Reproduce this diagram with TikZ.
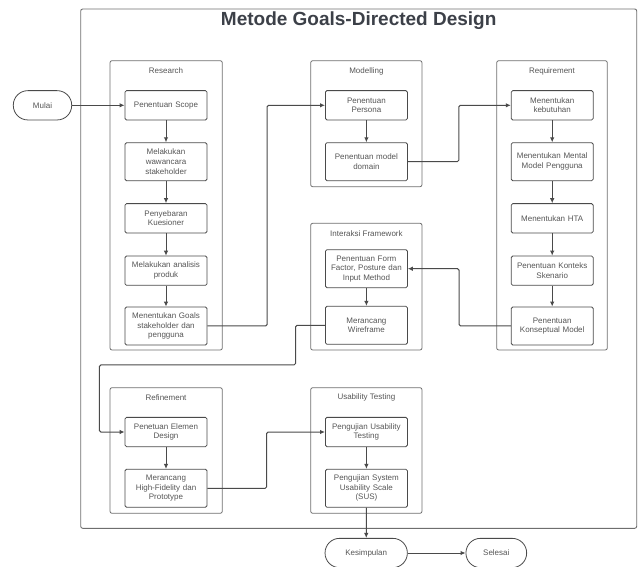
\documentclass[tikz,border=0pt]{standalone}
\usepackage{fontspec}
\setmainfont{Liberation Sans}
\usetikzlibrary{arrows.meta}
\definecolor{linegray}{HTML}{4A4A4A}
\definecolor{framegray}{HTML}{6E6E6E}
\definecolor{textgray}{HTML}{555555}
\definecolor{titlegray}{HTML}{3C4048}

\begin{document}
\begin{tikzpicture}[x = 1pt, y = -1pt,
		box/.style = {draw = linegray, line width = 0.8pt, rounded corners = 1.5pt, text = textgray,
			font = \fontsize{8}{9.6}\selectfont, align = center, text width = 78pt, minimum width = 82pt, inner sep = 1pt},
		smallbox/.style = {box, minimum height = 29.3pt},
		tallbox/.style = {box, minimum height = 38pt},
		groupbox/.style = {draw = framegray, line width = 0.8pt, rounded corners = 2pt},
		grouptitle/.style = {text = textgray, font = \fontsize{8}{9.6}\selectfont},
		terminal/.style = {draw = linegray, line width = 0.8pt, rounded corners = 14.5pt, text = textgray,
			font = \fontsize{8}{9.6}\selectfont, minimum height = 29.3pt},
		flow/.style = {draw = linegray, line width = 1pt, rounded corners = 1.5pt, -{Latex[length = 5pt, width = 4.5pt]}}]
		\useasboundingbox (0, 0) rectangle (641, 567);
		%%%%%%%%%%%%%
		\draw [framegray, line width = 0.9pt, rounded corners = 2pt] (80.7, 9) rectangle (636.7, 528.3);
		\node [text = titlegray, font = \bfseries\fontsize{19}{22}\selectfont] (title) at (358.7, 21) {Metode Goals-Directed Design};
		%%%%%%%%%%%%%
		\draw [groupbox] (110, 60.7) rectangle (222.3, 350);
		\draw [groupbox] (310.7, 60.7) rectangle (422, 186.7);
		\draw [groupbox] (496.7, 60.7) rectangle (607.3, 350);
		\draw [groupbox] (310.7, 223.3) rectangle (422, 350);
		\draw [groupbox] (110, 387.7) rectangle (222.3, 513.3);
		\draw [groupbox] (310.7, 387.7) rectangle (422, 513.3);
		\node [grouptitle] (research) at (166, 71) {Research};
		\node [grouptitle] (modelling) at (366.4, 71) {Modelling};
		\node [grouptitle] (requirement) at (552, 71) {Requirement};
		\node [grouptitle] (interaksi) at (366.4, 234) {Interaksi Framework};
		\node [grouptitle] (refinement) at (166, 397.7) {Refinement};
		\node [grouptitle] (usability) at (366.4, 397.7) {Usability Testing};
		%%%%%%%%%%%%%
		\node [terminal, minimum width = 58.4pt] (mulai) at (42.5, 105.3) {Mulai};
		\node [terminal, minimum width = 82.3pt] (kesimpulan) at (366.2, 553) {Kesimpulan};
		\node [terminal, minimum width = 60.7pt] (selesai) at (496.3, 553) {Selesai};
		%%%%%%%%%%%%%
		\node [smallbox] (scope) at (166, 105.3) {Penentuan Scope};
		\node [tallbox] (wawancara) at (166, 161.7) {Melakukan\\ wawancara\\ stakeholder};
		\node [smallbox] (kuesioner) at (166, 218.3) {Penyebaran\\ Kuesioner};
		\node [smallbox] (analisis) at (166, 270.7) {Melakukan analisis\\ produk};
		\node [tallbox] (goals) at (166, 326) {Menentukan Goals\\ stakeholder dan\\ pengguna};
		%%%%%%%%%%%%%
		\node [smallbox] (persona) at (366.4, 105.3) {Penentuan\\ Persona};
		\node [tallbox] (domain) at (366.4, 161.7) {Penentuan model\\ domain};
		%%%%%%%%%%%%%
		\node [smallbox] (kebutuhan) at (552.2, 105.3) {Menentukan\\ kebutuhan};
		\node [tallbox] (mental) at (552.2, 161.7) {Menentukan Mental\\ Model Pengguna};
		\node [smallbox] (hta) at (552.2, 218.3) {Menentukan HTA};
		\node [smallbox] (konteks) at (552.2, 270.7) {Penentuan Konteks\\ Skenario};
		\node [tallbox] (konseptual) at (552.2, 326) {Penentuan\\ Konseptual Model};
		%%%%%%%%%%%%%
		\node [tallbox] (formfactor) at (366.4, 268.7) {Penentuan Form\\ Factor, Posture dan\\ Input Method};
		\node [tallbox] (wireframe) at (366.4, 325.3) {Merancang\\ Wireframe};
		%%%%%%%%%%%%%
		\node [smallbox] (elemen) at (166, 432) {Penetuan Elemen\\ Design};
		\node [tallbox] (hifi) at (166, 488.3) {Merancang\\ High-Fidelity dan\\ Prototype};
		\node [smallbox] (pengujian) at (366.4, 432) {Pengujian Usability\\ Testing};
		\node [tallbox] (sus) at (366.4, 488.3) {Pengujian System\\ Usability Scale\\ (SUS)};
		\coordinate (wfturn) at (99.3, 365);
		%%%%%%%%%%%%%
		\draw [flow] (mulai) to (scope);
		\draw [flow] (scope) to (wawancara); \draw [flow] (wawancara) to (kuesioner);
		\draw [flow] (kuesioner) to (analisis); \draw [flow] (analisis) to (goals);
		\draw [flow] (goals.east) -- ++(59.7, 0) |- (persona.west);
		\draw [flow] (persona) to (domain);
		\draw [flow] (domain.east) -- ++(51, 0) |- (kebutuhan.west);
		\draw [flow] (kebutuhan) to (mental); \draw [flow] (mental) to (hta);
		\draw [flow] (hta) to (konteks); \draw [flow] (konteks) to (konseptual);
		\draw [flow] (konseptual.west) -- ++(-51.7, 0) |- (formfactor.east);
		\draw [flow] (formfactor) to (wireframe);
		\draw [flow] (wireframe.west) -- ++(-29.5, 0) |- (wfturn) |- (elemen.west);
		\draw [flow] (elemen) to (hifi);
		\draw [flow] (hifi.east) -- ++(59.3, 0) |- (pengujian.west);
		\draw [flow] (pengujian) to (sus);
		\draw [flow] (sus) to (kesimpulan);
		\draw [flow] (kesimpulan) to (selesai);
\end{tikzpicture}
\end{document}
